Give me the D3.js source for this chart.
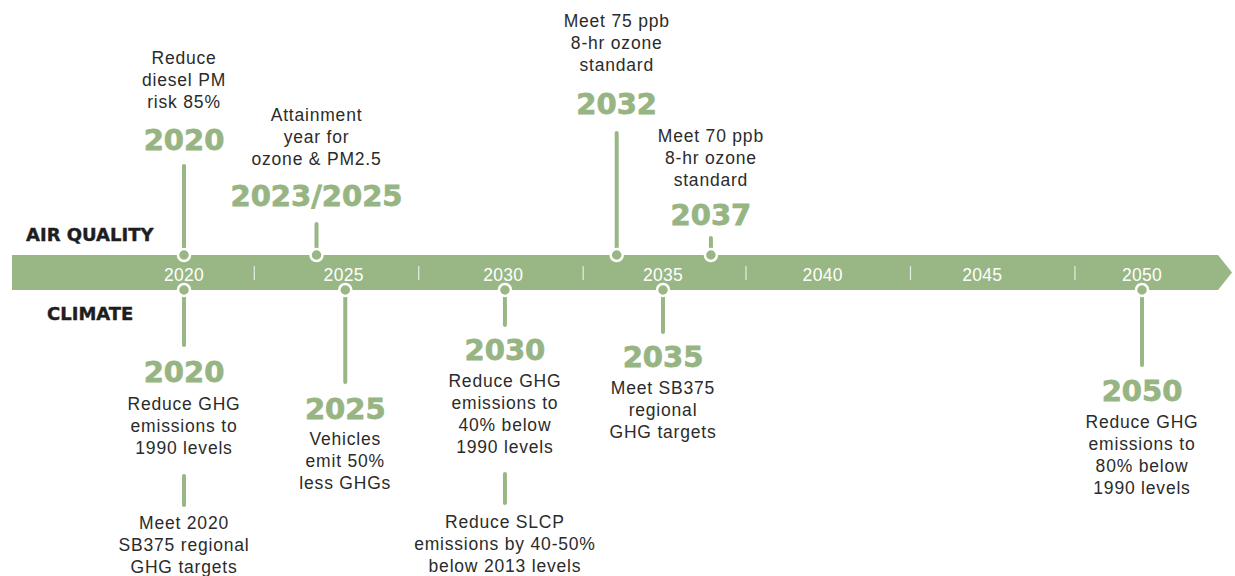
<!DOCTYPE html>
<html>
<head>
<meta charset="utf-8">
<script src="https://cdn.jsdelivr.net/npm/d3@7"></script>
<style>
  body { margin: 0; background: #fff; }
  svg { display: block; }
  .desc { font-family: "Liberation Sans", Arial, sans-serif; font-size: 17.5px; letter-spacing: 0.8px; fill: #2b2b2b; }
  .big { font-family: "DejaVu Sans", sans-serif; font-weight: bold; font-size: 29px; fill: #97b583; stroke: #97b583; stroke-width: 0.8px; }
  .tick { font-family: "Liberation Sans", Arial, sans-serif; font-size: 17.5px; letter-spacing: 0.3px; fill: #fff; }
  .group { font-family: "DejaVu Sans", sans-serif; font-weight: bold; font-size: 18px; fill: #1e1e1e; stroke: #1e1e1e; stroke-width: 0.4px; }
</style>
</head>
<body>
<div id="chart"></div>
<script>
// Timeline data
const bandYears = [2020, 2025, 2030, 2035, 2040, 2045, 2050];
const dividerYears = [2022.2, 2027.35, 2032.5, 2037.6, 2042.75, 2047.9];

const aqLabels = ["2020", "2023/2025", "2032", "2037"];
const aqAt = [2020, 2024.15, 2033.55, 2036.5];
const aqText = [
  ["Reduce", "diesel PM", "risk 85%"],
  ["Attainment", "year for", "ozone & PM2.5"],
  ["Meet 75 ppb", "8-hr ozone", "standard"],
  ["Meet 70 ppb", "8-hr ozone", "standard"]
];

const climLabels = ["2020", "2025", "2030", "2035", "2050"];
const climAt = [2020, 2025.05, 2030.05, 2035, 2050];
const climText = [
  ["Reduce GHG", "emissions to", "1990 levels"],
  ["Vehicles", "emit 50%", "less GHGs"],
  ["Reduce GHG", "emissions to", "40% below", "1990 levels"],
  ["Meet SB375", "regional", "GHG targets"],
  ["Reduce GHG", "emissions to", "80% below", "1990 levels"]
];

const climExtraAt = [2020, 2030.05];
const climExtraText = [
  ["Meet 2020", "SB375 regional", "GHG targets"],
  ["Reduce SLCP", "emissions by 40-50%", "below 2013 levels"]
];

// layout (pixels)
const W = 1235, H = 576;
const BAND_TOP = 255, BAND_BOT = 290;
const LINE_H = 22;
const GREEN = "#99b685";
const aqLayout = [
  { textY: 64, yearY: 150, stemTop: 166 },
  { textY: 121, yearY: 206, stemTop: 224 },
  { textY: 27, yearY: 114, stemTop: 133 },
  { textY: 142, yearY: 225, stemTop: 238 }
];
const climLayout = [
  { stemEnd: 345, yearY: 382, textY: 410 },
  { stemEnd: 382, yearY: 419, textY: 445 },
  { stemEnd: 325, yearY: 360, textY: 387 },
  { stemEnd: 332, yearY: 367, textY: 394 },
  { stemEnd: 365, yearY: 401, textY: 428 }
];
const extraLayout = [
  { stemTop: 476, stemEnd: 505, textY: 529 },
  { stemTop: 474, stemEnd: 503, textY: 528 }
];

const x = d3.scaleLinear().domain([2020, 2050]).range([184, 1142]);

const svg = d3.select("#chart").append("svg")
  .attr("width", W)
  .attr("height", H);

// arrow band
const mid = (BAND_TOP + BAND_BOT) / 2;
svg.append("path")
  .attr("d", `M12,${BAND_TOP} L1218,${BAND_TOP} L1232,${mid} L1218,${BAND_BOT} L12,${BAND_BOT} Z`)
  .attr("fill", GREEN);

svg.selectAll("line.divider")
  .data(dividerYears)
  .enter().append("line")
  .attr("class", "divider")
  .attr("x1", d => x(d)).attr("x2", d => x(d))
  .attr("y1", 266).attr("y2", 280)
  .attr("stroke", "#e6eee0")
  .attr("stroke-width", 1.2);

svg.selectAll("text.tick")
  .data(bandYears)
  .enter().append("text")
  .attr("class", "tick")
  .attr("x", d => x(d))
  .attr("y", 281)
  .attr("text-anchor", "middle")
  .text(d => d);

// group labels
svg.append("text").attr("class", "group").attr("x", 26).attr("y", 241).text("AIR QUALITY");
svg.append("text").attr("class", "group").attr("x", 47).attr("y", 320).text("CLIMATE");

function stem(cx, y1, y2) {
  svg.append("line")
    .attr("x1", cx).attr("x2", cx)
    .attr("y1", y1).attr("y2", y2)
    .attr("stroke", GREEN)
    .attr("stroke-width", 4)
    .attr("stroke-linecap", "round");
}

function dot(cx, cy) {
  svg.append("circle")
    .attr("cx", cx).attr("cy", cy)
    .attr("r", 6)
    .attr("fill", GREEN)
    .attr("stroke", "#fff")
    .attr("stroke-width", 2.5);
}

function lines(cx, y0, arr) {
  const t = svg.append("text")
    .attr("class", "desc")
    .attr("text-anchor", "middle");
  arr.forEach((s, i) => {
    t.append("tspan").attr("x", cx).attr("y", y0 + i * LINE_H).text(s);
  });
}

function bigYear(cx, y, label) {
  svg.append("text")
    .attr("class", "big")
    .attr("x", cx).attr("y", y)
    .attr("text-anchor", "middle")
    .text(label);
}

// air quality milestones (above)
aqLabels.forEach((lab, i) => {
  const cx = x(aqAt[i]);
  const L = aqLayout[i];
  stem(cx, L.stemTop, BAND_TOP);
  lines(cx, L.textY, aqText[i]);
  bigYear(cx, L.yearY, lab);
});

// climate milestones (below)
climLabels.forEach((lab, i) => {
  const cx = x(climAt[i]);
  const L = climLayout[i];
  stem(cx, BAND_BOT, L.stemEnd);
  bigYear(cx, L.yearY, lab);
  lines(cx, L.textY, climText[i]);
});

climExtraAt.forEach((at, i) => {
  const cx = x(at);
  const L = extraLayout[i];
  stem(cx, L.stemTop, L.stemEnd);
  lines(cx, L.textY, climExtraText[i]);
});

// dots on top of band
aqAt.forEach(a => dot(x(a), BAND_TOP));
climAt.forEach(a => dot(x(a), BAND_BOT));
</script>
</body>
</html>
